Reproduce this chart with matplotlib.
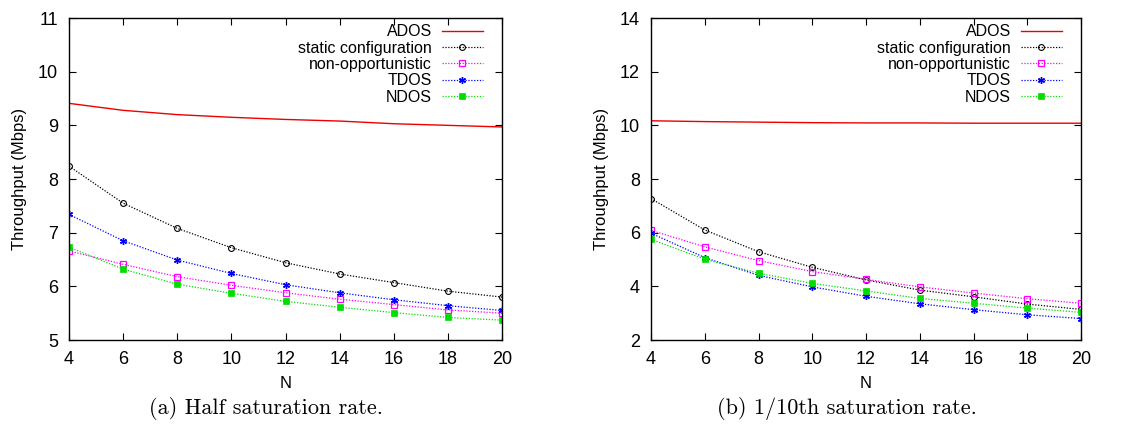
import matplotlib
matplotlib.use("Agg")
import matplotlib.pyplot as plt

plt.rcParams['font.family'] = ['Liberation Sans', 'DejaVu Sans']

N = [4, 6, 8, 10, 12, 14, 16, 18, 20]

# (a) Half saturation rate
a_ados = [9.41, 9.28, 9.20, 9.15, 9.11, 9.08, 9.03, 9.00, 8.97]
a_static = [8.24, 7.55, 7.08, 6.72, 6.44, 6.23, 6.07, 5.91, 5.80]
a_nonopp = [6.66, 6.41, 6.18, 6.02, 5.88, 5.76, 5.66, 5.56, 5.50]
a_tdos = [7.34, 6.85, 6.49, 6.24, 6.03, 5.88, 5.75, 5.64, 5.55]
a_ndos = [6.73, 6.32, 6.04, 5.87, 5.72, 5.61, 5.51, 5.42, 5.37]

# (b) 1/10th saturation rate
b_ados = [10.17, 10.14, 10.12, 10.10, 10.09, 10.09, 10.08, 10.08, 10.08]
b_static = [7.27, 6.10, 5.29, 4.71, 4.24, 3.86, 3.61, 3.34, 3.14]
b_nonopp = [6.09, 5.47, 4.96, 4.55, 4.26, 3.98, 3.75, 3.54, 3.37]
b_tdos = [5.98, 5.07, 4.41, 3.98, 3.63, 3.35, 3.13, 2.94, 2.80]
b_ndos = [5.75, 5.01, 4.49, 4.11, 3.83, 3.55, 3.37, 3.19, 3.03]

labels = ["ADOS", "static configuration", "non-opportunistic", "TDOS", "NDOS"]
captions = ["(a) Half saturation rate.", "(b) 1/10th saturation rate."]

dot = (0, (1, 1.3))
styles = [
    dict(color="#ee0000", linestyle="-", linewidth=1.0, marker=None),
    dict(color="#000000", linestyle=dot, linewidth=0.9, marker="o", markersize=4.2,
         markerfacecolor="none", markeredgewidth=0.8),
    dict(color="#ff00ff", linestyle=dot, linewidth=0.9, marker="s", markersize=5,
         markerfacecolor="none", markeredgewidth=0.9),
    dict(color="#0000ff", linestyle=dot, linewidth=0.9, marker=(6, 2, 0), markersize=5,
         markeredgewidth=1.0),
    dict(color="#00dd00", linestyle=dot, linewidth=0.9, marker="s", markersize=5,
         markeredgewidth=0.5),
]

fig = plt.figure(figsize=(11.33, 4.28), dpi=100)
axes_rects = [[0.0609, 0.2056, 0.3822, 0.7523], [0.5746, 0.2056, 0.3795, 0.7523]]
datasets = [[a_ados, a_static, a_nonopp, a_tdos, a_ndos],
            [b_ados, b_static, b_nonopp, b_tdos, b_ndos]]
ylims = [(5, 11), (2, 14)]
yticks = [list(range(5, 12)), list(range(2, 15, 2))]
cap_x = [266 / 1133, 847 / 1133]

for i in range(2):
    ax = fig.add_axes(axes_rects[i])
    for series, lab, st in zip(datasets[i], labels, styles):
        ax.plot(N, series, label=lab, **st)
    ax.set_xlim(4, 20)
    ax.set_ylim(*ylims[i])
    ax.set_xticks(N)
    ax.set_yticks(yticks[i])
    ax.tick_params(direction="in", top=True, right=True, labelsize=13, length=5)
    ax.tick_params(axis="y", pad=8)
    ax.tick_params(axis="x", pad=8)
    ax.set_xlabel("N", fontsize=12, labelpad=6)
    ax.set_ylabel("Throughput (Mbps)", fontsize=12, labelpad=8)
    for s in ax.spines.values():
        s.set_linewidth(1.0)
    leg = ax.legend(loc="upper right", frameon=False, markerfirst=False, numpoints=1,
                    fontsize=11.5, handlelength=2.6, handletextpad=0.6, labelspacing=0.08,
                    borderaxespad=0.0, bbox_to_anchor=(0.971, 1.0))
    leg._legend_box.align = "right"
    fig.text(cap_x[i], (428 - 408) / 428, captions[i], ha="center", va="center",
             fontsize=16, family="cmr10")

fig.savefig("out.png", dpi=100)
